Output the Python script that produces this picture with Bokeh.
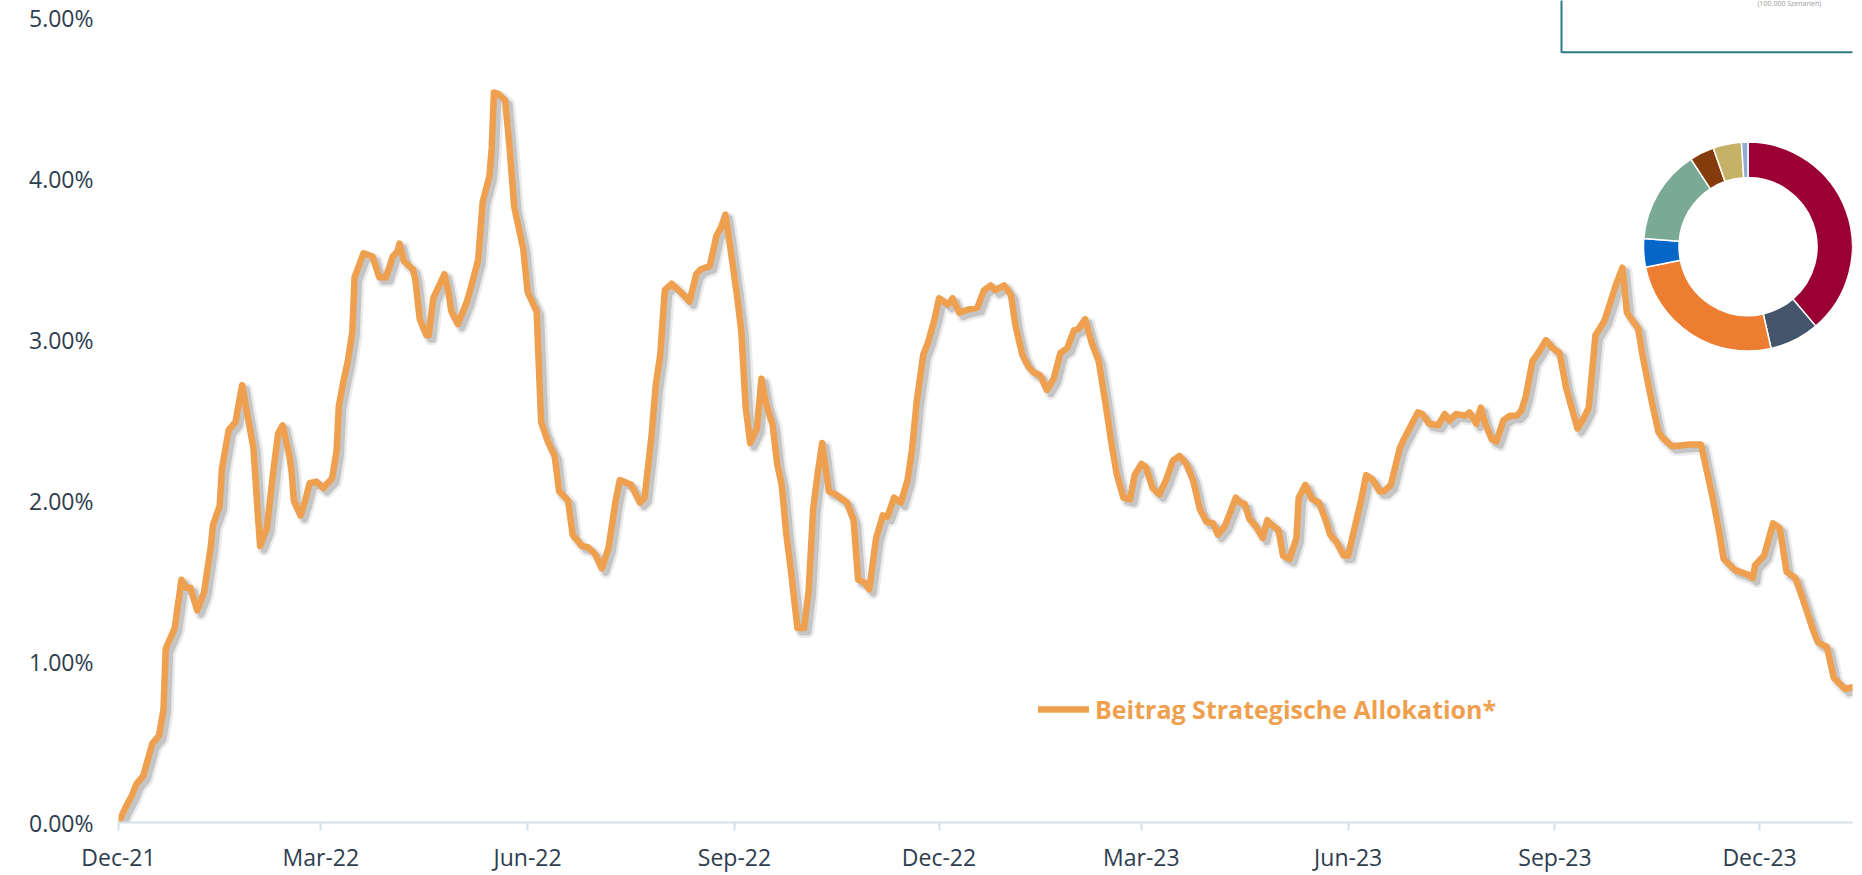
import math
import pandas as pd
from bokeh.plotting import figure
from bokeh.models import (Range1d, FixedTicker, PrintfTickFormatter, DatetimeTickFormatter,
                          Legend, LegendItem, ColumnDataSource)
from bokeh.core.properties import value
from bokeh.embed import file_html
from bokeh.resources import INLINE

# ---------------- data ----------------
start_date = "2021-12-01"
day_offsets = [
    0, 3, 6, 8, 11, 15, 18, 20, 21, 25, 28, 30, 32, 35, 38, 41, 42, 45, 46, 49,
    52, 55, 57, 60, 62, 63, 66, 69, 71, 73, 76, 77, 78, 81, 83, 85, 88, 91, 95, 97,
    98, 100, 102, 104, 105, 109, 113, 116, 119, 122, 124, 125, 127, 131, 132, 134, 137, 138, 140, 145,
    147, 148, 151, 155, 157, 160, 162, 165, 166, 167, 169, 172, 174, 176, 180, 182, 186, 188, 191, 194,
    196, 200, 202, 206, 209, 212, 215, 218, 221, 223, 228, 232, 234, 237, 239, 241, 243, 246, 250, 254,
    257, 259, 263, 266, 268, 270, 272, 275, 277, 279, 281, 284, 286, 288, 291, 293, 295, 297, 299, 302,
    305, 307, 309, 311, 313, 316, 319, 322, 324, 327, 329, 332, 334, 337, 340, 342, 345, 348, 351, 353,
    355, 358, 360, 363, 365, 369, 371, 374, 378, 382, 385, 388, 390, 394, 397, 399, 402, 405, 407, 410,
    413, 416, 419, 422, 425, 427, 430, 433, 436, 439, 442, 444, 447, 450, 452, 455, 457, 460, 463, 466,
    469, 472, 475, 478, 481, 484, 487, 489, 492, 494, 497, 499, 501, 503, 506, 509, 511, 513, 516, 518,
    521, 524, 525, 528, 531, 534, 537, 539, 542, 545, 547, 550, 553, 555, 558, 561, 563, 566, 570, 572,
    575, 578, 580, 583, 587, 590, 592, 595, 599, 601, 604, 606, 608, 611, 613, 616, 619, 622, 624, 626,
    629, 632, 635, 638, 641, 644, 647, 649, 652, 654, 657, 661, 664, 666, 669, 671, 673, 676, 678, 680,
    682, 685, 687, 691, 699, 704, 706, 709, 712, 714, 719, 725, 727, 728, 732, 736, 739, 742, 746, 749,
    754, 756, 760, 763, 768, 771,
]
contribution_pct = [
    0.00, 0.09, 0.17, 0.24, 0.29, 0.49, 0.54, 0.70, 1.08, 1.21, 1.51, 1.46, 1.46, 1.32, 1.43, 1.71, 1.85, 1.97, 2.20, 2.44,
    2.49, 2.72, 2.56, 2.33, 1.91, 1.72, 1.83, 2.20, 2.42, 2.47, 2.28, 2.18, 2.00, 1.91, 2.00, 2.11, 2.12, 2.08, 2.14, 2.31,
    2.59, 2.74, 2.87, 3.05, 3.39, 3.54, 3.52, 3.39, 3.39, 3.52, 3.55, 3.60, 3.49, 3.44, 3.38, 3.13, 3.03, 3.03, 3.26, 3.41,
    3.28, 3.18, 3.10, 3.24, 3.34, 3.50, 3.86, 4.02, 4.19, 4.54, 4.53, 4.49, 4.19, 3.83, 3.57, 3.30, 3.18, 2.49, 2.37, 2.28,
    2.06, 2.00, 1.79, 1.72, 1.71, 1.67, 1.58, 1.71, 1.99, 2.13, 2.10, 1.99, 2.02, 2.39, 2.72, 2.91, 3.31, 3.35, 3.30, 3.24,
    3.41, 3.44, 3.46, 3.65, 3.70, 3.78, 3.59, 3.29, 3.06, 2.58, 2.36, 2.45, 2.76, 2.61, 2.47, 2.23, 2.10, 1.80, 1.58, 1.21,
    1.21, 1.44, 1.95, 2.17, 2.36, 2.06, 2.04, 2.01, 1.99, 1.88, 1.51, 1.49, 1.45, 1.77, 1.91, 1.90, 2.02, 1.99, 2.13, 2.32,
    2.61, 2.91, 2.98, 3.13, 3.26, 3.22, 3.26, 3.17, 3.19, 3.20, 3.31, 3.34, 3.31, 3.34, 3.28, 3.09, 2.91, 2.83, 2.80, 2.78,
    2.69, 2.76, 2.92, 2.95, 3.06, 3.07, 3.13, 2.98, 2.87, 2.61, 2.33, 2.17, 2.02, 2.01, 2.16, 2.23, 2.21, 2.08, 2.04, 2.13,
    2.25, 2.28, 2.23, 2.13, 1.95, 1.87, 1.86, 1.79, 1.84, 1.91, 2.02, 1.99, 1.98, 1.89, 1.84, 1.77, 1.88, 1.85, 1.82, 1.66,
    1.64, 1.77, 2.02, 2.10, 2.01, 1.99, 1.88, 1.79, 1.74, 1.66, 1.66, 1.84, 2.02, 2.16, 2.13, 2.06, 2.06, 2.10, 2.33, 2.39,
    2.47, 2.55, 2.54, 2.48, 2.47, 2.54, 2.50, 2.54, 2.53, 2.55, 2.48, 2.58, 2.48, 2.38, 2.37, 2.50, 2.53, 2.53, 2.56, 2.65,
    2.87, 2.93, 3.00, 2.95, 2.92, 2.70, 2.55, 2.45, 2.52, 2.58, 3.03, 3.12, 3.25, 3.34, 3.45, 3.17, 3.13, 3.07, 2.90, 2.76,
    2.62, 2.43, 2.39, 2.34, 2.35, 2.35, 2.22, 2.03, 1.81, 1.64, 1.57, 1.54, 1.52, 1.60, 1.66, 1.86, 1.83, 1.56, 1.52, 1.40,
    1.19, 1.12, 1.09, 0.90, 0.83, 0.84,
]
series_name = "Beitrag Strategische Allokation*"

tick_dates = ["2021-12-01", "2022-03-01", "2022-06-01", "2022-09-01", "2022-12-01",
              "2023-03-01", "2023-06-01", "2023-09-01", "2023-12-01"]
tick_label_format = "%b-%y"   # Dec-21, Mar-22, ...
y_ticks = [0, 1, 2, 3, 4, 5]

# inset donut (allocation shares, clockwise from 12 o'clock)
alloc_shares = [38.8, 7.7, 25.4, 4.4, 14.6, 3.8, 4.4, 1.0]
alloc_colors = ["#9b0035", "#44546a", "#ed7d31", "#0566c8", "#7aaa96", "#843c0c", "#c6b267", "#8eaed3"]
panel_note = "(100.000 Szenarien)"

# ---------------- layout constants ----------------
W, H = 1862, 875
BL, BR, BT, BB = 118, 10, 0, 50
FW, FH = W - BL - BR, H - BT - BB          # 1734 x 825
PX_PER_PCT = 161.4
PX_PER_DAY = 2.248
LINE_COLOR = "#efa04f"
TEXT_COLOR = "#2e3d4f"
AXIS_COLOR = "#d6e0ea"
FONT = "Open Sans"

start = pd.Timestamp(start_date)
dates = start + pd.to_timedelta(day_offsets, unit="D")
x_end = start + pd.to_timedelta(FW / PX_PER_DAY, unit="D")
y_top = FH / PX_PER_PCT

p = figure(width=W, height=H, x_axis_type="datetime", title=None,
           x_range=Range1d(start, x_end), y_range=Range1d(0, y_top),
           output_backend="svg", toolbar_location=None,
           min_border_left=BL, min_border_right=BR, min_border_top=BT, min_border_bottom=BB)
p.outline_line_color = None
p.xgrid.visible = False
p.ygrid.visible = False
p.background_fill_color = "white"
p.border_fill_color = "white"

# drop shadow of the line (offset by a few screen pixels)
sh_dx = pd.to_timedelta(4 / PX_PER_DAY, unit="D")
sh_dy = 4 / PX_PER_PCT
src_sh = ColumnDataSource(dict(x=dates + sh_dx, y=[v - sh_dy for v in contribution_pct]))
p.line("x", "y", source=src_sh, line_color="#000000", line_alpha=0.08, line_width=12, line_join="round")
p.line("x", "y", source=src_sh, line_color="#000000", line_alpha=0.16, line_width=7, line_join="round")

src = ColumnDataSource(dict(x=dates, y=contribution_pct))
main = p.line("x", "y", source=src, line_color=LINE_COLOR, line_width=6.5,
              line_join="round", line_cap="round")

# x axis
xa = p.xaxis[0]
xa.ticker = FixedTicker(ticks=[pd.Timestamp(d).value / 1e6 for d in tick_dates])
xa.formatter = DatetimeTickFormatter(days=tick_label_format, months=tick_label_format,
                                     years=tick_label_format)
xa.axis_line_color = AXIS_COLOR
xa.axis_line_width = 2
xa.major_tick_line_color = AXIS_COLOR
xa.major_tick_line_width = 2
xa.major_tick_out = 8
xa.major_tick_in = 0
xa.minor_tick_line_color = None
xa.major_label_standoff = 10
xa.major_label_text_font = FONT
xa.major_label_text_font_size = "23px"
xa.major_label_text_color = TEXT_COLOR

# y axis
ya = p.yaxis[0]
ya.ticker = FixedTicker(ticks=y_ticks)
ya.formatter = PrintfTickFormatter(format="%.2f%%")
ya.axis_line_color = None
ya.major_tick_line_color = None
ya.minor_tick_line_color = None
ya.major_tick_out = 0
ya.major_label_standoff = 25
ya.major_label_text_font = FONT
ya.major_label_text_font_size = "23px"
ya.major_label_text_color = TEXT_COLOR

# legend
legend = Legend(items=[LegendItem(label=series_name, renderers=[main])],
                location=(920, 96), orientation="horizontal",
                padding=0, margin=0, spacing=0,
                glyph_width=51, glyph_height=24, label_height=24, label_standoff=6,
                border_line_alpha=0, background_fill_alpha=0,
                label_text_font=FONT, label_text_font_size="25px",
                label_text_font_style="bold", label_text_color=LINE_COLOR)
p.add_layout(legend)

# pixel-space overlay ranges (for the inset donut and the partly visible panel)
p.extra_x_ranges = {"px": Range1d(0, FW)}
p.extra_y_ranges = {"py": Range1d(0, FH)}

p.quad(left=[1443], right=[1800], bottom=[773], top=[900], x_range_name="px", y_range_name="py",
       fill_alpha=0, line_color="#2b7a86", line_width=2)
p.text(x=[1639], y=[FH - 3], text=[panel_note], x_range_name="px", y_range_name="py",
       text_font=value(FONT), text_font_size=value("7px"), text_color="#9a9a9a",
       text_align="left", text_baseline="alphabetic")

tot = sum(alloc_shares)
cum = [0.0]
for s in alloc_shares:
    cum.append(cum[-1] + s / tot)
starts = [math.pi / 2 - 2 * math.pi * c for c in cum[:-1]]
ends = [math.pi / 2 - 2 * math.pi * c for c in cum[1:]]
donut_src = ColumnDataSource(dict(start=starts, end=ends, color=alloc_colors))
p.annular_wedge(x=1629.5, y=578, inner_radius=69, outer_radius=104.5,
                start_angle="start", end_angle="end", direction="clock",
                inner_radius_units="screen", outer_radius_units="screen",
                fill_color="color", line_color="white", line_width=1.5,
                source=donut_src, x_range_name="px", y_range_name="py")

open("out.html", "w").write(file_html(p, INLINE))
